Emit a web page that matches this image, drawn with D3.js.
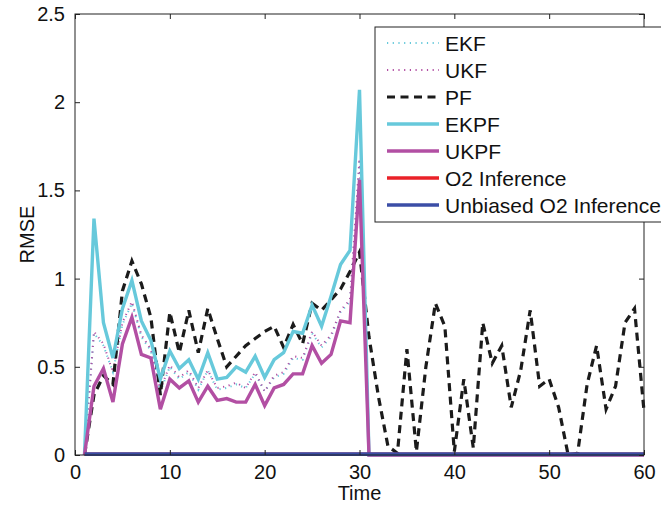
<!DOCTYPE html>
<html>
<head>
<meta charset="utf-8">
<script src="https://cdn.jsdelivr.net/npm/d3@7/dist/d3.min.js"></script>
<style>
  html, body { margin: 0; padding: 0; background: #fff; }
  svg { display: block; font-family: "Liberation Sans", Arial, Helvetica, sans-serif; }
</style>
</head>
<body>
<svg id="chart" width="661" height="506"></svg>
<script>
// Time steps
const time = [1,2,3,4,5,6,7,8,9,10,11,12,13,14,15,16,17,18,19,20,
              21,22,23,24,25,26,27,28,29,30,31,32,33,34,35,36,37,38,39,40,
              41,42,43,44,45,46,47,48,49,50,51,52,53,54,55,56,57,58,59,60];

// RMSE per filter
const ekf = [0,0.69,0.62,0.47,0.74,0.86,0.67,0.59,0.36,0.50,0.43,0.47,0.37,0.48,0.37,0.38,0.40,0.38,0.46,0.36,
             0.44,0.46,0.55,0.54,0.69,0.61,0.67,0.81,0.87,1.66,0,0,0,0,0,0,0,0,0,0,
             0,0,0,0,0,0,0,0,0,0,0,0,0,0,0,0,0,0,0,0];
const ukf = [0,0.70,0.63,0.47,0.75,0.87,0.68,0.60,0.37,0.51,0.44,0.48,0.38,0.48,0.38,0.39,0.41,0.38,0.47,0.36,
             0.45,0.47,0.56,0.55,0.70,0.62,0.68,0.82,0.88,1.68,0,0,0,0,0,0,0,0,0,0,
             0,0,0,0,0,0,0,0,0,0,0,0,0,0,0,0,0,0,0,0];
const pf  = [0,0.34,0.45,0.40,0.93,1.10,0.97,0.78,0.34,0.81,0.58,0.82,0.58,0.83,0.66,0.50,0.56,0.62,0.66,0.70,
             0.73,0.61,0.74,0.63,0.86,0.82,0.88,0.94,1.04,1.15,0.67,0.33,0.05,0.01,0.60,0.02,0.50,0.86,0.73,0.02,
             0.43,0.04,0.75,0.52,0.62,0.27,0.48,0.82,0.39,0.43,0.27,0.00,0.01,0.40,0.62,0.26,0.39,0.75,0.83,0.25];
const ekpf = [0,1.34,0.75,0.55,0.83,0.99,0.76,0.65,0.43,0.59,0.49,0.54,0.43,0.58,0.43,0.44,0.50,0.47,0.56,0.44,
              0.54,0.58,0.70,0.69,0.85,0.73,0.90,1.08,1.16,2.07,0,0,0,0,0,0,0,0,0,0,
              0,0,0,0,0,0,0,0,0,0,0,0,0,0,0,0,0,0,0,0];
const ukpf = [0,0.39,0.49,0.30,0.63,0.78,0.57,0.55,0.26,0.43,0.38,0.42,0.30,0.39,0.31,0.32,0.30,0.30,0.40,0.28,
              0.38,0.40,0.46,0.46,0.62,0.52,0.57,0.76,0.75,1.56,0,0,0,0,0,0,0,0,0,0,
              0,0,0,0,0,0,0,0,0,0,0,0,0,0,0,0,0,0,0,0];
const o2 = [0.004,0.004,0.004,0.004,0.004,0.004,0.004,0.004,0.004,0.004,0.004,0.004,0.004,0.004,0.004,0.004,0.004,0.004,0.004,0.004,
            0.004,0.004,0.004,0.004,0.004,0.004,0.004,0.004,0.004,0.004,0.004,0.004,0.004,0.004,0.004,0.004,0.004,0.004,0.004,0.004,
            0.004,0.004,0.004,0.004,0.004,0.004,0.004,0.004,0.004,0.004,0.004,0.004,0.004,0.004,0.004,0.004,0.004,0.004,0.004,0.004];
const o2Unbiased = [0.005,0.005,0.005,0.005,0.005,0.005,0.005,0.005,0.005,0.005,0.005,0.005,0.005,0.005,0.005,0.005,0.005,0.005,0.005,0.005,
            0.005,0.005,0.005,0.005,0.005,0.005,0.005,0.005,0.005,0.005,0.005,0.005,0.005,0.005,0.005,0.005,0.005,0.005,0.005,0.005,
            0.005,0.005,0.005,0.005,0.005,0.005,0.005,0.005,0.005,0.005,0.005,0.005,0.005,0.005,0.005,0.005,0.005,0.005,0.005,0.005];

const seriesNames = ["EKF", "UKF", "PF", "EKPF", "UKPF", "O2 Inference", "Unbiased O2 Inference"];
const xTicks = [0, 10, 20, 30, 40, 50, 60];
const yTicks = [0, 0.5, 1, 1.5, 2, 2.5];

const CYAN = "#67c9db", MAGENTA = "#b24fa3", BLACK = "#1b1b1b", RED = "#ea2128", BLUE = "#3b4ea6";

const series = [
  { name: seriesNames[0], values: ekf,  color: CYAN,    width: 2,   dash: "1.2,4.5" },
  { name: seriesNames[1], values: ukf,  color: MAGENTA, width: 2,   dash: "1.2,4.5" },
  { name: seriesNames[2], values: pf,   color: BLACK,   width: 3.2, dash: "8,5.5" },
  { name: seriesNames[3], values: ekpf, color: CYAN,    width: 3.4, dash: null },
  { name: seriesNames[4], values: ukpf, color: MAGENTA, width: 3.4, dash: null },
  { name: seriesNames[5], values: o2,   color: RED,     width: 3.4, dash: null },
  { name: seriesNames[6], values: o2Unbiased, color: BLUE, width: 3.6, dash: null }
];

const svg = d3.select("#chart");
const m = { left: 75, top: 14, right: 17, bottom: 51 };
const W = 661 - m.left - m.right;
const H = 506 - m.top - m.bottom;

const x = d3.scaleLinear().domain([0, 60]).range([0, W]);
const y = d3.scaleLinear().domain([0, 2.5]).range([H, 0]);

const g = svg.append("g").attr("transform", `translate(${m.left},${m.top})`);

// Lines
const line = d3.line().x((d, i) => x(time[i])).y(d => y(d));
g.append("g").selectAll("path").data(series).join("path")
  .attr("d", s => line(s.values))
  .attr("fill", "none")
  .attr("stroke", s => s.color)
  .attr("stroke-width", s => s.width)
  .attr("stroke-dasharray", s => s.dash)
  .attr("stroke-linejoin", "miter")
  .attr("stroke-linecap", "butt");

// Axes: MATLAB-style box with inward ticks on all four sides
const axisColor = "#222";
const fontSize = 20;
const styleAxis = sel => {
  sel.select(".domain").remove();
  sel.selectAll(".tick line").attr("stroke", axisColor).attr("stroke-width", 1);
  sel.selectAll(".tick text").attr("fill", "#111").style("font-size", fontSize + "px")
     .style("font-family", "'Liberation Sans', Arial, sans-serif");
};

g.append("g").attr("transform", `translate(0,${H})`)
  .call(d3.axisBottom(x).tickValues(xTicks).tickFormat(d3.format("d")).tickSizeInner(-5).tickSizeOuter(0).tickPadding(10))
  .call(styleAxis);
g.append("g")
  .call(d3.axisTop(x).tickValues(xTicks).tickFormat("").tickSizeInner(-5).tickSizeOuter(0))
  .call(styleAxis);
g.append("g")
  .call(d3.axisLeft(y).tickValues(yTicks).tickFormat(d3.format("")).tickSizeInner(-5).tickSizeOuter(0).tickPadding(10))
  .call(styleAxis);
g.append("g").attr("transform", `translate(${W},0)`)
  .call(d3.axisRight(y).tickValues(yTicks).tickFormat("").tickSizeInner(-5).tickSizeOuter(0))
  .call(styleAxis);

g.append("rect").attr("x", 0).attr("y", 0).attr("width", W).attr("height", H)
  .attr("fill", "none").attr("stroke", axisColor).attr("stroke-width", 1);

// Axis titles
svg.append("text").attr("x", m.left + W / 2).attr("y", 500)
  .attr("text-anchor", "middle").style("font-size", "20px").attr("fill", "#111").text("Time");
svg.append("text").attr("transform", `translate(34,${m.top + H / 2}) rotate(-90)`)
  .attr("text-anchor", "middle").style("font-size", "20px").attr("fill", "#111").text("RMSE");

// Legend
const lg = svg.append("g").attr("transform", "translate(375,27)");
lg.append("rect").attr("x", 0).attr("y", 0).attr("width", 300).attr("height", 195)
  .attr("fill", "#fff").attr("stroke", axisColor).attr("stroke-width", 1);
const rows = lg.selectAll("g.row").data(series).join("g").attr("class", "row")
  .attr("transform", (d, i) => `translate(0,${16 + i * 27})`);
rows.append("line").attr("x1", 12).attr("x2", 64).attr("y1", 0).attr("y2", 0)
  .attr("stroke", d => d.color).attr("stroke-width", d => d.width)
  .attr("stroke-dasharray", d => d.dash);
rows.append("text").attr("x", 70).attr("y", 0).attr("dy", "0.36em")
  .style("font-size", "21px").attr("fill", "#111").text(d => d.name);
</script>
</body>
</html>
